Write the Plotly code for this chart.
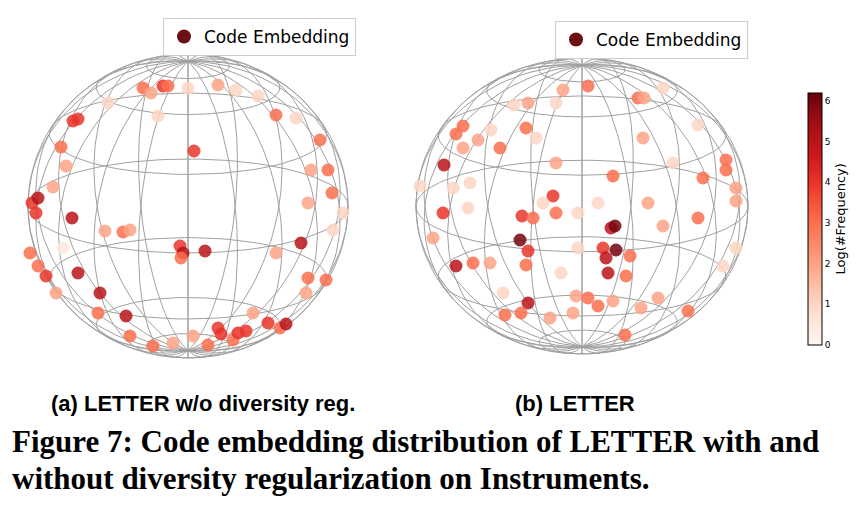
import numpy as np
import plotly.graph_objects as go

# points (pixel positions) and log-frequency
left_x = [155,135,143,160,210,180,100,70,65,53,58,45,24,28,64,55,22,30,38,48,92,90,118,122,145,165,185,200,213,225,238,245,260,272,278,298,300,318,303,320,324,312,288,268,250,228,186,172,175,197,173,97,115,293,268,300,335,325,150,70,30,122,210,230]
left_y = [78,80,85,78,77,80,95,111,113,139,158,179,195,205,210,240,245,258,268,285,285,305,308,328,338,335,328,337,326,332,323,305,315,320,316,285,270,272,162,162,185,132,110,107,88,82,143,238,245,243,250,223,224,235,245,195,205,222,108,265,190,222,320,325]
left_v = [4,3,2,3,2,1,1,4,4,3,2,2,4,4,5,0.5,3,3,4,2,5,3,5,3,3,2,2,3,4,3,4,2,4,3,5,2,3,3,2,3,3,3,1,3,1,1,4,4,5,5,3,2,3,5,2,2,1,1,1,5,5,2,4,4]

right_x = [555,580,630,548,520,506,483,470,448,455,436,462,412,435,460,425,448,465,482,495,497,520,513,542,565,568,580,590,605,617,633,650,680,715,728,728,728,718,718,695,690,655,640,605,548,528,518,492,514,525,545,548,535,512,520,518,553,603,607,595,608,598,622,600,618,570,590,570,635,636,665,690,655,445,455]
right_y = [82,78,90,95,95,97,122,132,126,140,157,175,178,205,200,230,258,255,255,285,307,295,305,310,305,288,290,298,293,327,300,290,303,258,240,193,180,162,152,170,210,218,195,168,155,130,120,140,208,210,188,205,195,232,243,257,265,220,218,240,242,250,248,265,268,240,195,205,130,90,155,117,80,180,118]
right_v = [2,3,3,1,2,1,1,2,3,2,5,1,1,4,1,2,5,3,2,1,3,5,3,2,2,2,3,3,2,3,2,2,3,1,1,2,2,3,3,3,3,2,2,3,2,1,3,3,4,3,4,3,1,6,4,3,1,5,6,4,6,5,3,5,3,1,1,1,2,2,1,1,1,1,3]

spheres = [(180, 198, 160, 152), (574, 198, 166, 148)]


def wireframe(cx, cy, rx, ry, elev=np.radians(18)):
    xs, ys = [], []

    def add(phi, lam):
        xp = np.cos(phi) * np.sin(lam)
        yp = np.sin(phi) * np.cos(elev) - np.cos(phi) * np.cos(lam) * np.sin(elev)
        xs.extend(list(cx + rx * xp) + [None])
        ys.extend(list(cy - ry * yp) + [None])

    t = np.linspace(0, 2 * np.pi, 120)
    for lat in [-75, -55, -30, 0, 30, 55, 75]:
        add(np.full_like(t, np.radians(lat)), t)
    p = np.linspace(-np.pi / 2, np.pi / 2, 80)
    for lon in range(0, 360, 18):
        add(p, np.full_like(p, np.radians(lon)))
    # outline
    xs.extend(list(cx + rx * np.cos(t)) + [None])
    ys.extend(list(cy + ry * np.sin(t)) + [None])
    return xs, ys


fig = go.Figure()
for cx, cy, rx, ry in spheres:
    wx, wy = wireframe(cx, cy, rx, ry)
    fig.add_trace(go.Scatter(x=wx, y=wy, mode="lines", line=dict(color="#a0a0a0", width=1),
                             hoverinfo="skip", showlegend=False))

for i, (px, py, pv) in enumerate([(left_x, left_y, left_v), (right_x, right_y, right_v)]):
    fig.add_trace(go.Scatter(x=px, y=py, mode="markers", showlegend=False,
                             marker=dict(size=13, color=pv, coloraxis="coloraxis", opacity=0.85,
                                         line=dict(width=0))))
    fig.add_trace(go.Scatter(x=[None], y=[None], mode="markers", name="Code Embedding",
                             legend="legend" if i == 0 else "legend2",
                             marker=dict(size=14, color="#6b1016")))

fig.update_layout(
    width=857, height=513, margin=dict(l=0, r=0, t=0, b=0),
    plot_bgcolor="white", paper_bgcolor="white",
    font=dict(family="DejaVu Sans", color="black"),
    xaxis=dict(range=[0, 857], visible=False, domain=[0, 1]),
    yaxis=dict(range=[513, 0], visible=False, domain=[0, 1]),
    coloraxis=dict(colorscale="Reds", cmin=0, cmax=6.2,
                   colorbar=dict(x=0.922, xanchor="left", y=0.589, len=0.53, thickness=14,
                                 outlinecolor="black", outlinewidth=1,
                                 tickvals=[0, 1, 2, 3, 4, 5, 6], tickfont=dict(size=9),
                                 title=dict(text="Log(#Frequency)", side="right", font=dict(size=13)))),
    legend=dict(x=155 / 857, y=1 - 10 / 513, xanchor="left", yanchor="top", bordercolor="#cccccc",
                borderwidth=1, font=dict(size=17)),
    legend2=dict(x=547 / 857, y=1 - 13 / 513, xanchor="left", yanchor="top", bordercolor="#cccccc",
                 borderwidth=1, font=dict(size=17)),
)

fig.add_annotation(x=195 / 857, y=1 - 410 / 513, xref="paper", yref="paper", xanchor="center", showarrow=False,
                   text="<b>(a) LETTER w/o diversity reg.</b>", font=dict(family="Liberation Sans", size=22))
fig.add_annotation(x=567 / 857, y=1 - 410 / 513, xref="paper", yref="paper", xanchor="center", showarrow=False,
                   text="<b>(b) LETTER</b>", font=dict(family="Liberation Sans", size=22))
fig.add_annotation(x=2 / 857, y=1 - 453 / 513, xref="paper", yref="paper", xanchor="left", showarrow=False,
                   text="<b>Figure 7: Code embedding distribution of LETTER with and</b>",
                   font=dict(family="Liberation Serif", size=31, color="black"))
fig.add_annotation(x=2 / 857, y=1 - 490 / 513, xref="paper", yref="paper", xanchor="left", showarrow=False,
                   text="<b>without diversity regularization on Instruments.</b>",
                   font=dict(family="Liberation Serif", size=31, color="black"))

fig.write_html("out.html")
